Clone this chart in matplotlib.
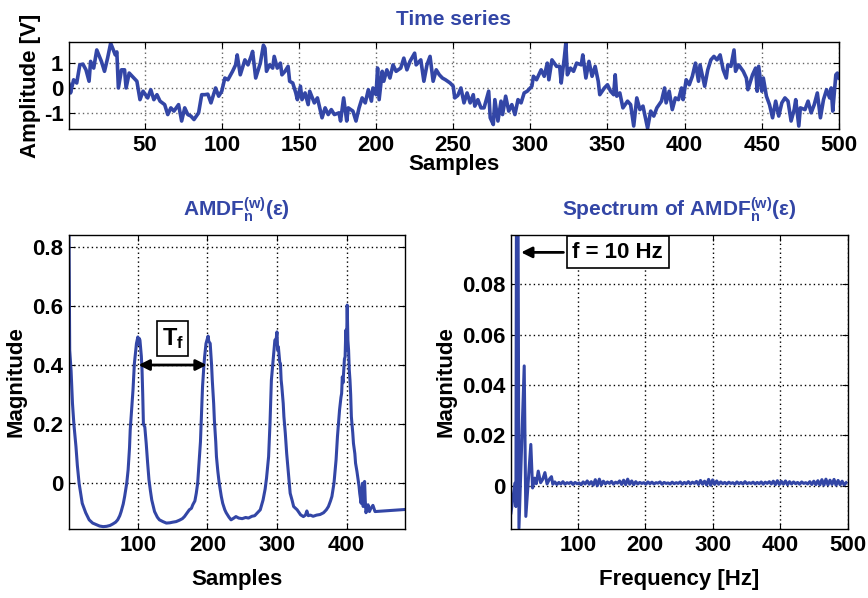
import numpy as np
import matplotlib
matplotlib.use("Agg")
import matplotlib.pyplot as plt

# time series (sample, amplitude)
ts_x = [1, 2, 4, 6, 8, 10, 12, 14, 15, 17, 19, 22, 24, 26, 28, 31, 32, 33, 35, 37,
        38, 40, 43, 45, 47, 49, 52, 54, 56, 58, 60, 63, 65, 67, 69, 72, 74, 76, 78, 80,
        82, 85, 87, 89, 91, 93, 96, 98, 100, 102, 104, 107, 109, 110, 112, 115, 117, 119, 120, 122,
        125, 127, 128, 129, 131, 133, 134, 136, 138, 139, 141, 143, 144, 146, 148, 149, 151, 152, 154, 156,
        157, 160, 162, 164, 165, 167, 169, 171, 173, 176, 177, 179, 181, 182, 185, 187, 189, 191, 193, 195,
        197, 198, 200, 201, 202, 204, 205, 207, 209, 211, 213, 216, 218, 220, 222, 225, 226, 229, 231, 233,
        235, 237, 239, 241, 243, 245, 248, 250, 251, 253, 255, 257, 259, 261, 263, 264, 266, 268, 270, 273,
        274, 276, 277, 279, 281, 282, 284, 286, 288, 290, 292, 294, 296, 298, 301, 302, 304, 307, 309, 311,
        312, 314, 317, 319, 320, 322, 323, 324, 326, 328, 330, 333, 334, 336, 338, 340, 342, 344, 345, 348,
        350, 352, 354, 355, 356, 358, 360, 363, 365, 367, 369, 371, 373, 376, 378, 380, 382, 385, 387, 388,
        390, 392, 394, 396, 398, 399, 401, 403, 405, 407, 409, 410, 413, 415, 417, 419, 421, 423, 425, 427,
        428, 430, 432, 433, 435, 438, 440, 441, 444, 446, 447, 448, 450, 451, 453, 455, 457, 459, 461, 463,
        465, 467, 469, 471, 472, 474, 475, 478, 480, 482, 484, 486, 488, 490, 492, 494, 495, 496, 498, 499,
        500]
ts_y = [0.15, -0.2, 0.33, 0.2, 0.93, 0.96, 0.73, 0.27, 1.07, 0.8, 1.53, 1.07, 0.67, 1.2, 1.8, 1.33, 1.45, 0.0, 0.73, 0.73,
        0.0, 0.6, 0.4, 0.27, -0.47, -0.13, -0.4, -0.07, -0.47, -0.27, -0.53, -0.67, -1.07, -0.8, -0.93, -0.67, -1.33, -0.8, -1.07, -1.13,
        -1.27, -1.0, -0.27, -0.27, -0.25, -0.6, 0.0, -0.33, -0.13, 0.4, 0.33, 0.67, 0.93, 1.33, 0.53, 1.13, 0.93, 1.27, 1.47, 0.4,
        1.0, 1.72, 1.6, 0.67, 0.93, 0.8, 1.27, 0.8, 1.0, 0.53, 0.67, 0.87, 0.27, 0.2, -0.2, -0.47, 0.07, -0.47, -0.2, -0.67,
        -0.13, -0.6, -0.4, -0.93, -1.2, -0.8, -1.07, -0.87, -1.07, -1.0, -1.33, -0.4, -1.33, -0.8, -0.93, -1.33, -0.8, -0.4, -0.6, -0.07,
        -0.53, 0.0, -0.27, 0.8, -0.47, 0.67, 0.27, 0.73, 0.4, 0.93, 0.67, 0.8, 1.2, 0.73, 1.07, 1.4, 0.93, 1.13, 0.27, 0.93,
        1.27, 0.27, 0.73, 0.53, 0.4, 0.33, 0.2, 0.07, -0.4, -0.3, 0.0, -0.6, -0.2, -0.6, -0.27, -0.73, -0.47, -0.8, -0.8, -0.13,
        -1.2, -1.47, -0.47, -1.33, -0.53, -1.07, -0.33, -0.93, -0.67, -1.07, -0.47, -0.6, -0.2, -0.13, 0.07, 0.47, 0.33, 0.73, 0.47, 1.0,
        0.33, 1.13, 0.87, 0.87, 0.2, 1.2, 1.8, 0.53, 0.8, 0.67, 1.0, 0.93, 1.33, 0.4, 1.07, 0.47, 0.87, 0.27, -0.27, 0.0,
        0.13, -0.13, -0.27, 0.53, -0.33, -0.2, -0.8, -0.53, -0.67, -1.53, -0.4, -0.87, -0.73, -1.62, -0.93, -1.13, -0.8, -0.53, 0.0, -0.6,
        -0.13, -0.87, -0.4, -0.47, 0.0, -0.47, 0.33, 0.13, 0.47, 1.0, 0.27, 0.93, 0.07, 0.73, 1.13, 1.27, 1.13, 1.33, 0.73, 0.4,
        0.93, 0.87, 1.53, 0.67, 0.93, 0.67, 0.4, -0.07, 0.53, 0.8, -0.13, 0.87, -0.13, 0.4, -0.33, -0.67, -1.2, -0.53, -1.13, -0.6,
        -0.4, -0.53, -1.33, -0.87, -0.47, -1.53, -0.8, -0.87, -0.53, -1.0, -0.67, -0.2, -1.2, -0.47, -0.07, -0.4, 0.0, -0.93, 0.53, 0.6,
        0.4]

# AMDF (lag in samples, magnitude)
amdf_x = [1, 2, 4, 6, 8, 11, 13, 15.5, 20, 25, 30, 35, 40, 45, 50, 55, 60, 64, 68, 71,
          74, 76, 79, 81, 84, 86, 88, 89, 91, 93, 95, 97, 98, 100, 101, 102, 103, 105, 106, 107,
          108, 110, 112, 114, 116, 118, 120, 124, 128, 131, 136, 141, 146, 150, 155, 160, 164, 167, 171, 174,
          177, 179, 182, 184, 186, 188, 190, 191, 193, 195, 196, 198, 200, 201, 202, 204, 206, 207, 209, 210,
          212, 213, 215, 217, 220, 222, 225, 227, 231, 234, 238, 241, 245, 250, 255, 259, 264, 268, 272, 276,
          280, 283, 285, 288, 290, 292, 295, 297, 299, 300, 301, 302, 304, 305, 306, 307, 309, 310, 312, 314,
          316, 319, 322, 324, 329, 334, 338, 341, 343, 345, 348, 352, 357, 362, 367, 371, 374, 377, 379, 382,
          385, 387, 390, 392, 393, 394, 395, 397, 398, 399, 400, 401, 402, 403, 404, 405, 406, 407, 409, 410,
          412, 413, 415, 416, 418, 419, 421, 422, 423, 424, 425, 426, 427, 428, 430, 431, 433, 435, 438, 441,
          484]
amdf_y = [0.84, 0.45, 0.38, 0.27, 0.2, 0.124, 0.06, 0.0, -0.068, -0.1, -0.124, -0.135, -0.14, -0.145, -0.147, -0.146, -0.143, -0.138, -0.132, -0.124,
          -0.11, -0.096, -0.07, -0.045, 0.0, 0.045, 0.12, 0.18, 0.25, 0.315, 0.405, 0.45, 0.473, 0.495, 0.47, 0.49, 0.484, 0.43, 0.383, 0.3,
          0.2, 0.19, 0.135, 0.07, 0.011, -0.025, -0.057, -0.096, -0.115, -0.124, -0.13, -0.135, -0.134, -0.132, -0.13, -0.125, -0.12, -0.113, -0.1, -0.09,
          -0.085, -0.073, -0.06, -0.034, 0.0, 0.068, 0.14, 0.203, 0.327, 0.4, 0.428, 0.473, 0.49, 0.498, 0.48, 0.473, 0.4, 0.349, 0.27, 0.214,
          0.14, 0.09, 0.04, 0.0, -0.045, -0.068, -0.09, -0.1, -0.115, -0.124, -0.118, -0.113, -0.118, -0.12, -0.116, -0.118, -0.112, -0.11, -0.1, -0.09,
          -0.057, -0.02, 0.017, 0.09, 0.203, 0.349, 0.428, 0.484, 0.49, 0.512, 0.45, 0.462, 0.41, 0.405, 0.35, 0.327, 0.27, 0.225, 0.169, 0.1,
          0.045, -0.034, -0.06, -0.079, -0.09, -0.107, -0.113, -0.108, -0.094, -0.11, -0.108, -0.112, -0.108, -0.106, -0.1, -0.09, -0.079, -0.06, -0.045, 0.0,
          0.079, 0.158, 0.248, 0.29, 0.304, 0.36, 0.34, 0.42, 0.428, 0.518, 0.45, 0.603, 0.484, 0.45, 0.383, 0.349, 0.3, 0.225, 0.17, 0.135,
          0.1, 0.068, 0.04, 0.023, -0.01, -0.034, -0.068, -0.03, 0.0, -0.079, -0.05, 0.006, -0.06, -0.1, -0.08, -0.073, -0.096, -0.085, -0.075, -0.096,
          -0.089]

# spectrum of the AMDF, low frequency part (Hz, magnitude x 1e-3)
spec_lo_f = [1, 6.8, 8.3, 10, 12.8, 20.6, 23, 30.4, 33, 36, 38.5, 41.4, 44.9, 48, 51.3, 54.5, 58, 61]
spec_lo_m = [-10.8, 1.0, -8.3, 250, -16.9, 47.6, -12.2, 16.4, -0.9, 3.0, 0.8, 5.8, 1.2, 2.5, 5.2, 0.7, 2.6, 3.6]
# noise floor, one value every 3 Hz from 63 to 498 Hz (x 1e-3)
spec_hi_m = [0.6, 1.5, 0.5, 1.3, 0.7, 1.6, 0.6, 1.2, 0.9, 1.4,
             0.5, 1.3, 0.8, 1.1, 0.4, 1.5, 0.7, 1.9, 0.6, 1.6,
             0.2, 2.4, 0.0, 2.6, 0.3, 1.8, 0.7, 1.5, 0.9, 1.7,
             0.6, 1.4, 1.0, 1.9, 0.5, 2.2, 0.4, 2.6, 0.6, 1.9,
             0.4, 1.6, 0.7, 1.3, 0.9, 1.2, 0.6, 1.5, 0.8, 1.4,
             0.7, 1.2, 1.0, 1.5, 0.6, 1.3, 0.9, 1.1, 0.7, 1.4,
             0.8, 1.2, 0.9, 1.5, 0.6, 1.3, 0.8, 1.6, 0.7, 1.4,
             0.9, 1.7, 0.5, 2.1, 0.6, 1.8, 0.3, 2.5, 0.2, 2.3,
             0.5, 1.9, 0.6, 1.5, 0.8, 1.3, 0.7, 1.4, 0.9, 1.2,
             0.6, 1.5, 0.8, 1.3, 0.7, 1.6, 0.8, 1.2, 0.9, 1.4,
             0.7, 1.3, 0.8, 1.5, 0.6, 1.4, 0.9, 1.6, 0.7, 1.8,
             0.4, 2.0, 0.5, 1.7, 0.6, 1.9, 0.4, 1.6, 0.7, 1.5,
             0.8, 1.3, 0.6, 1.5, 0.9, 1.2, 0.7, 1.6, 0.5, 1.8,
             0.4, 2.0, 0.3, 2.4, 0.2, 2.6, 0.3, 2.2, 0.5, 2.5,
             0.2, 2.1, 0.4, 1.8, 0.3, 1.2]
spec_hi_f = np.arange(63, 499, 3)

spec_f = np.concatenate([spec_lo_f, spec_hi_f])
spec_m = np.concatenate([spec_lo_m, spec_hi_m]) * 1e-3

blue = "#3346a6"

plt.rcParams['font.family'] = ['Liberation Sans', 'DejaVu Sans']
plt.rcParams['font.weight'] = 'bold'
plt.rcParams['axes.labelweight'] = 'bold'
plt.rcParams['axes.titleweight'] = 'bold'
plt.rcParams['mathtext.fontset'] = 'custom'
plt.rcParams['mathtext.rm'] = 'Liberation Sans:bold'
plt.rcParams['mathtext.bf'] = 'Liberation Sans:bold'
plt.rcParams['mathtext.it'] = 'Liberation Sans:bold'
plt.rcParams['mathtext.default'] = 'rm'
plt.rcParams['font.size'] = 16
plt.rcParams['axes.linewidth'] = 1.0

fig = plt.figure(figsize=(8.68, 5.98), dpi=100)
ax1 = fig.add_axes([0.0795, 0.7843, 0.887, 0.1455])
ax2 = fig.add_axes([0.0795, 0.1154, 0.387, 0.4916])
ax3 = fig.add_axes([0.5887, 0.1154, 0.3877, 0.4916])

dots = (0, (1, 2.2))
tsize = 15

def style(ax, gridcol):
    ax.tick_params(direction='in', top=True, right=True, length=4, width=0.8, pad=4)
    ax.grid(True, color=gridcol, linestyle=dots, linewidth=1.0)
    ax.set_axisbelow(True)

# top: time series
ax1.plot(ts_x, ts_y, color=blue, lw=2.6)
ax1.set_xlim(1, 500)
ax1.set_ylim(-1.65, 1.85)
ax1.set_xticks(range(50, 501, 50))
ax1.set_yticks([-1, 0, 1])
ax1.set_yticklabels(['-1', '0', '1'])
ax1.set_xlabel('Samples', labelpad=-1)
ax1.set_ylabel('Amplitude [V]', labelpad=2)
ax1.set_title('Time series', color=blue, pad=12, fontsize=tsize)
style(ax1, '0.4')

# bottom left: AMDF
ax2.plot(amdf_x, amdf_y, color=blue, lw=2.2)
ax2.set_xlim(1, 484)
ax2.set_ylim(-0.155, 0.84)
ax2.set_xticks([100, 200, 300, 400])
ax2.set_yticks([0, 0.2, 0.4, 0.6, 0.8])
ax2.set_yticklabels(['0', '0.2', '0.4', '0.6', '0.8'])
ax2.set_xlabel('Samples', labelpad=10)
ax2.set_ylabel('Magnitude', labelpad=4)
ax2.set_title(r'AMDF$_{n}^{(w)}$(ε)', color=blue, pad=14, fontsize=tsize)
style(ax2, 'k')
ax2.annotate('', xy=(101, 0.4), xytext=(199, 0.4),
             arrowprops=dict(arrowstyle='<|-|>', color='k', lw=2, mutation_scale=16,
                             shrinkA=0, shrinkB=0))
ax2.text(150, 0.49, r'T$_{f}$', ha='center', va='center', fontsize=17,
         bbox=dict(boxstyle='square,pad=0.2', fc='white', ec='k', lw=1.2))

# bottom right: spectrum
ax3.plot(spec_f, spec_m, color=blue, lw=2.2)
ax3.set_xlim(1, 500)
ax3.set_ylim(-0.0172, 0.0996)
ax3.set_xticks([100, 200, 300, 400, 500])
ax3.set_yticks([0, 0.02, 0.04, 0.06, 0.08])
ax3.set_yticklabels(['0', '0.02', '0.04', '0.06', '0.08'])
ax3.set_xlabel('Frequency [Hz]', labelpad=10)
ax3.set_ylabel('Magnitude', labelpad=4)
ax3.set_title(r'Spectrum of AMDF$_{n}^{(w)}$(ε)', color=blue, pad=14, fontsize=tsize)
style(ax3, 'k')
ax3.annotate('f = 10 Hz', xy=(16, 0.0927), xytext=(92, 0.0927), ha='left', va='center',
             bbox=dict(boxstyle='square,pad=0.25', fc='white', ec='k', lw=1.2),
             arrowprops=dict(arrowstyle='-|>', color='k', lw=2, mutation_scale=16, shrinkB=0))

fig.savefig('out.png', dpi=100)
